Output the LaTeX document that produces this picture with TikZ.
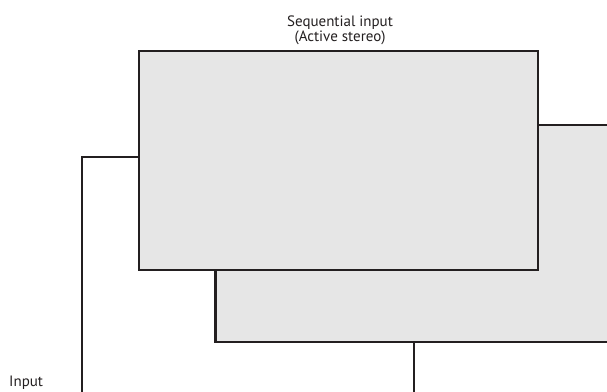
\documentclass[tikz,border=0pt]{standalone}
\usepackage{fontspec}
\setmainfont{PT Sans}
\definecolor{strokec}{HTML}{231F20}
\definecolor{fillc}{HTML}{E6E6E6}
\begin{document}
\begin{tikzpicture}[x=1pt,y=-1pt,
  panel/.style={draw=strokec,fill=fillc,line width=2.3pt,rectangle,inner sep=0pt},
  wire/.style={draw=strokec,line width=2.3pt},
  lbl/.style={text=strokec,font=\fontsize{15}{16}\selectfont,inner sep=0pt}]
\useasboundingbox (0,0) rectangle (607,391);
\clip (0,0) rectangle (607,391);
\node[panel,minimum width=424.5pt,minimum height=217pt] (back) at (427.75,233.5) {};
\node[panel,minimum width=399pt,minimum height=219pt] (front) at (338.5,160.5) {};
\node[lbl,anchor=base] (t1) at (340,26) {Sequential input};
\node[lbl,anchor=base] (t2) at (340,41) {(Active stereo)};
\node[lbl,anchor=base west] (inp) at (9,386) {Input};
\coordinate (endL) at (82,395);
\coordinate (endB) at (414,395);
\draw[wire] (front.west |- 0,157) -| (endL);
\draw[wire] (back.south -| 414,0) -- (endB);
\end{tikzpicture}
\end{document}
